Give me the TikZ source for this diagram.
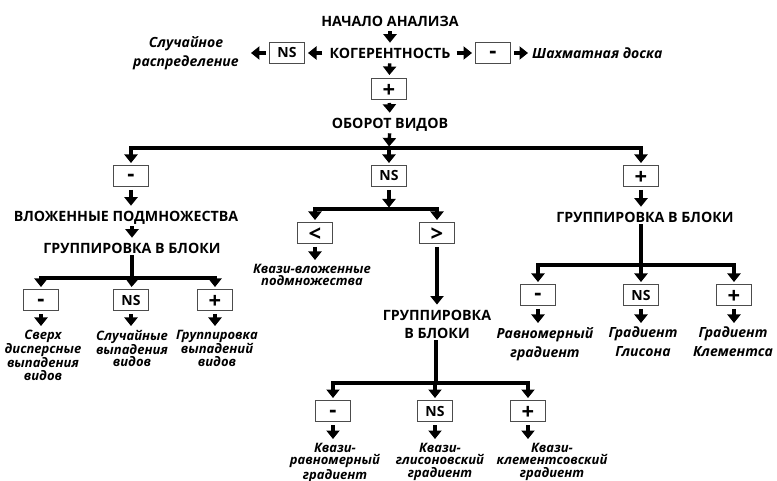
\documentclass[tikz,border=0pt]{standalone}
\usepackage{fontspec}
\setmainfont{Open Sans}
\usetikzlibrary{arrows.meta,positioning}
\tikzset{
  head/.style={font=\bfseries\fontsize{14.2}{18}\selectfont, inner sep=2pt, text height=10.2pt, text depth=0pt},
  head2/.style={font=\bfseries\fontsize{14.2}{18}\selectfont, inner sep=2pt, align=center},
  res/.style={font=\bfseries\itshape\fontsize{13}{12.5}\selectfont, inner sep=1pt, align=center},
  resw/.style={font=\bfseries\itshape\fontsize{14}{19}\selectfont, inner sep=1pt, align=center},
  sbox/.style={draw=black!70, line width=1pt, minimum width=35pt, minimum height=21pt, inner sep=0pt,
    font=\bfseries\fontsize{14}{14}\selectfont},
  big/.style={font=\bfseries\fontsize{22}{22}\selectfont, text height=17pt, text depth=0pt},
  minus/.style={font=\bfseries\fontsize{22}{22}\selectfont, text height=12pt, text depth=0pt},
  arr/.style={line width=3.4pt, -{Triangle[width=13pt,length=8.5pt]}, shorten >=3pt, shorten <=3pt},
  br/.style={line width=3.4pt, -{Triangle[width=13pt,length=8.5pt]}, shorten >=2pt},
  bar/.style={line width=3.2pt},
}
\begin{document}
\begin{tikzpicture}[x=1pt,y=-1pt]
\useasboundingbox (0,0) rectangle (777,481);
% начало и когерентность
\node[head] (nachalo) at (390,21) {НАЧАЛО АНАЛИЗА};
\node[head] (kogerent) at (390,53) {КОГЕРЕНТНОСТЬ};
\node[sbox] (nsK) at (287,53) {NS};
\node[sbox, minus] (minusK) at (493,53) {-};
\node[resw] (sluch) at (186,53) {Случайное\\распределение};
\node[resw, anchor=west] (shakh) at (531,53) {Шахматная доска};
\node[sbox, big] (plusK) at (389,89) {+};
\node[head] (oborot) at (390,123) {ОБОРОТ ВИДОВ};

\draw[arr] (nachalo) -- (kogerent);
\draw[arr, shorten <=5pt] (kogerent) -- (nsK);
\draw[arr, shorten >=11pt] (nsK) -- (sluch);
\draw[arr, shorten <=4pt] (kogerent) -- (minusK);
\draw[arr] (minusK) -- (shakh);
\draw[arr] (kogerent) -- (plusK);
\draw[arr] (plusK) -- (oborot);

% оборот видов
\coordinate (j0) at (389,148);
\node[sbox, minus] (b1) at (131,176) {-};
\node[sbox] (b2) at (389,176) {NS};
\node[sbox, big] (b3) at (641,176) {+};
\draw[arr, shorten >=1.5pt] (oborot) -- (j0);
\draw[br] (j0) -| (b1);
\draw[br] (j0) -- (b2);
\draw[br] (j0) -| (b3);

% левая ветвь
\node[head] (vlozh) at (126,216) {ВЛОЖЕННЫЕ ПОДМНОЖЕСТВА};
\node[head] (grL) at (132,248) {ГРУППИРОВКА В БЛОКИ};
\draw[arr] (b1.south) -- (b1.south |- vlozh.north);
\draw[arr] (vlozh.south -| grL) -- (grL);
\coordinate (jL) at (132,278);
\node[sbox, minus] (l1) at (41,300) {-};
\node[sbox] (l2) at (131,300) {NS};
\node[sbox, big] (l3) at (215,300) {+};
\draw[bar] (grL.south) -- (jL);
\draw[br] (jL) -| (l1);
\draw[br] (jL) -- (l2);
\draw[br] (jL) -| (l3);
\node[res, anchor=north] (rl1) at (43,329) {Сверх\\дисперсные\\выпадения\\видов};
\node[res, anchor=north] (rl2) at (132,329) {Случайные\\выпадения\\видов};
\node[res, anchor=north] (rl3) at (217,329) {Группировка\\выпадений\\видов};
\draw[arr] (l1.south) -- (l1.south |- rl1.north);
\draw[arr] (l2.south) -- (l2.south |- rl2.north);
\draw[arr] (l3.south) -- (l3.south |- rl3.north);

% средняя ветвь
\coordinate (jM) at (389,209);
\node[sbox, big] (lt) at (315,233) {<};
\node[sbox, big] (gt) at (437,233) {>};
\draw[arr, shorten >=1.5pt] (b2) -- (jM);
\draw[br] (jM) -| (lt);
\draw[br] (jM) -| (gt);
\node[res, anchor=north] (kvl) at (312,263) {Квази-вложенные\\подмножества};
\draw[arr] (lt.south) -- (lt.south |- kvl.north);
\node[head2] (grM) at (437,324) {ГРУППИРОВКА\\В БЛОКИ};
\draw[arr] (gt) -- (grM);
\coordinate (jB) at (436,383);
\node[sbox, minus] (m1) at (333,411) {-};
\node[sbox] (m2) at (435,411) {NS};
\node[sbox, big] (m3) at (528,411) {+};
\draw[bar] (grM.south -| jB) -- (jB);
\draw[br] (jB) -| (m1);
\draw[br] (jB) -| (m2);
\draw[br] (jB) -| (m3);
\node[res, anchor=north] (rm1) at (335,442) {Квази-\\равномерный\\градиент};
\node[res, anchor=north] (rm2) at (440,442) {Квази-\\глисоновский\\градиент};
\node[res, anchor=north] (rm3) at (552,442) {Квази-\\клементсовский\\градиент};
\draw[arr] (m1.south) -- (m1.south |- rm1.north);
\draw[arr] (m2.south) -- (m2.south |- rm2.north);
\draw[arr] (m3.south) -- (m3.south |- rm3.north);

% правая ветвь
\node[head] (grR) at (645,217) {ГРУППИРОВКА В БЛОКИ};
\draw[arr] (b3.south) -- (b3.south |- grR.north);
\coordinate (jR) at (641,265);
\node[sbox, minus] (r1) at (538,295) {-};
\node[sbox] (r2) at (641,295) {NS};
\node[sbox, big] (r3) at (734,295) {+};
\draw[bar] (grR.south -| jR) -- (jR);
\draw[br] (jR) -| (r1);
\draw[br] (jR) -- (r2);
\draw[br] (jR) -| (r3);
\node[resw, anchor=north] (rr1) at (545,326) {Равномерный\\градиент};
\node[resw, anchor=north] (rr2) at (643,326) {Градиент\\Глисона};
\node[resw, anchor=north] (rr3) at (733,326) {Градиент\\Клементса};
\draw[arr] (r1.south) -- (r1.south |- rr1.north);
\draw[arr] (r2.south) -- (r2.south |- rr2.north);
\draw[arr] (r3.south) -- (r3.south |- rr3.north);
\end{tikzpicture}
\end{document}
